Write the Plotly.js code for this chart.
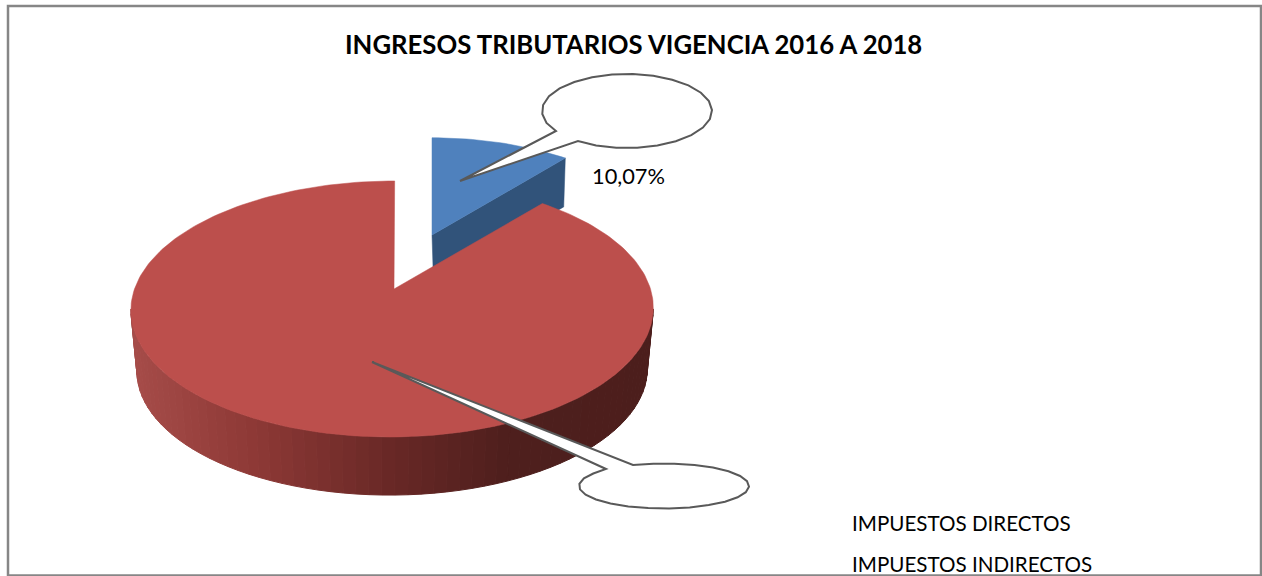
<!DOCTYPE html>
<html>
<head>
<meta charset="utf-8">
<script src="https://cdn.plot.ly/plotly-3.0.1.min.js"></script>
<style>html,body{margin:0;padding:0;background:#fff;overflow:hidden}#chart{width:1262px;height:576px}</style>
</head>
<body>
<div id="chart"></div>
<script>
// Data
var chartTitle = 'INGRESOS TRIBUTARIOS VIGENCIA 2016 A 2018';
var categories = ['IMPUESTOS DIRECTOS', 'IMPUESTOS INDIRECTOS'];
var shares = [10.07, 89.93];
var shownLabels = ['10,07%'];
var topColors = ['#4f81bd', '#bc4f4c'];
var blueCutColor = '#31537a';

// Projection of the tilted pie
var K = 0.156, A = 258, B = 124.9, WARP = 3.93;
var rad = Math.PI / 180;
function warp(d) { return d + WARP * Math.sin(2 * d * rad); }
function proj(deg, s, ax, ay, sh) {
  var t = deg * rad, w = 1 + K * Math.cos(t);
  var dy = B * s * Math.cos(t) / w;
  return [ax + A * s * Math.sin(t) / w + (sh || 0) * dy, ay - dy];
}
var blueSpan = shares[0] / (shares[0] + shares[1]) * 360;
var blueTop = {s: 0.9, ax: 432, ay: 235}, blueBot = {s: 0.879, ax: 433.5, ay: 282};
var redTop = {s: 1, ax: 392.5, ay: 289, sh: 0.02, px: 394}, redBot = {s: 0.977, ax: 392.5, ay: 350.5, sh: 0.02};

function at(deg, g) { return proj(deg, g.s, g.ax, g.ay, g.sh); }
function poly(pts, color, lineW) {
  var xs = pts.map(function (p) { return p[0]; }), ys = pts.map(function (p) { return p[1]; });
  xs.push(xs[0]); ys.push(ys[0]);
  return {type: 'scatter', mode: 'lines', x: xs, y: ys, fill: 'toself', fillcolor: color,
    line: {color: color, width: lineW || 0.5}, hoverinfo: 'skip', showlegend: false};
}
function sector(d0, d1, g) {
  var pts = [[g.px || g.ax, g.ay]], n = Math.ceil((d1 - d0) / 1.5);
  for (var i = 0; i <= n; i++) pts.push(at(warp(d0 + (d1 - d0) * i / n), g));
  return pts;
}
var stops = [[131, [166, 76, 73]], [250, [142, 57, 54]], [400, [102, 39, 37]], [510, [78, 31, 29]], [660, [76, 30, 28]]];
function sideColor(x) {
  for (var i = 1; i < stops.length; i++) {
    if (x <= stops[i][0]) {
      var f = (x - stops[i - 1][0]) / (stops[i][0] - stops[i - 1][0]), a = stops[i - 1][1], b = stops[i][1];
      return 'rgb(' + [0, 1, 2].map(function (c) { return Math.round(a[c] + (b[c] - a[c]) * Math.max(f, 0)); }).join(',') + ')';
    }
  }
  return 'rgb(76,30,28)';
}

var traces = [];
// Blue slice: cut face then top
var ct = warp(blueSpan);
traces.push(poly([[blueTop.ax, blueTop.ay], at(ct, blueTop), at(ct, blueBot), [blueBot.ax, blueBot.ay]], blueCutColor));
traces.push(poly(sector(0, blueSpan, blueTop), topColors[0]));
// Red slice: rim strips then top
var tEdge = Math.acos(-K) / rad, stripStep = 2.5;
for (var d = tEdge; d < 360 - tEdge - 0.01; d += stripStep) {
  var e = Math.min(d + stripStep, 360 - tEdge);
  var a = at(d, redTop), b = at(e, redTop), c = at(e, redBot), f = at(d, redBot);
  traces.push(poly([a, b, c, f], sideColor((a[0] + b[0]) / 2), 1));
}
traces.push(poly(sector(blueSpan, 360, redTop), topColors[1]));

// Callouts
function bubble(tip, start, end, cx, cy, rx, ry) {
  var a0 = Math.atan2((start[1] - cy) / ry, (start[0] - cx) / rx);
  var a1 = Math.atan2((end[1] - cy) / ry, (end[0] - cx) / rx);
  while (a1 >= a0) a1 -= 2 * Math.PI;
  var p = 'M' + tip[0] + ',' + tip[1] + ' L' + start[0] + ',' + start[1];
  for (var i = 1; i < 24; i++) {
    var t = a0 + (a1 - a0) * i / 24;
    p += ' L' + (cx + rx * Math.cos(t)).toFixed(1) + ',' + (cy + ry * Math.sin(t)).toFixed(1);
  }
  return p + ' L' + end[0] + ',' + end[1] + ' Z';
}
function calloutShape(path) {
  return {type: 'path', xref: 'x', yref: 'y', path: path, fillcolor: '#ffffff', layer: 'above',
    line: {color: '#595959', width: 2}};
}
var shapes = [
  calloutShape(bubble([460, 181], [578, 141], [556, 131], 627, 111, 85, 37)),
  calloutShape(bubble([372, 362], [606, 469], [633, 465], 664, 486, 85, 22.5)),
  {type: 'rect', xref: 'x', yref: 'y', x0: 8, y0: 6, x1: 1261, y1: 575.5, layer: 'above',
    line: {color: '#868686', width: 2.5}}
];

function label(text, x, y, size, bold) {
  return {xref: 'x', yref: 'y', x: x, y: y, xanchor: 'left', yanchor: 'middle', showarrow: false, borderpad: 0,
    text: bold ? '<b>' + text + '</b>' : text, font: {family: 'Lato, Carlito, sans-serif', size: size, color: '#000000'}};
}
var annotations = [
  label(chartTitle, 344, 43.5, 25.7, true),
  label(shownLabels[0], 591, 175, 21.8, false),
  label(categories[0], 851, 522.5, 20.6, false),
  label(categories[1], 851, 563.5, 20.6, false)
];

Plotly.newPlot('chart', traces, {
  width: 1262, height: 576, margin: {l: 0, r: 0, t: 0, b: 0},
  paper_bgcolor: '#ffffff', plot_bgcolor: '#ffffff', showlegend: false,
  xaxis: {range: [0, 1262], visible: false, fixedrange: true},
  yaxis: {range: [576, 0], visible: false, fixedrange: true},
  shapes: shapes, annotations: annotations
}, {displayModeBar: false, staticPlot: true});
</script>
</body>
</html>
